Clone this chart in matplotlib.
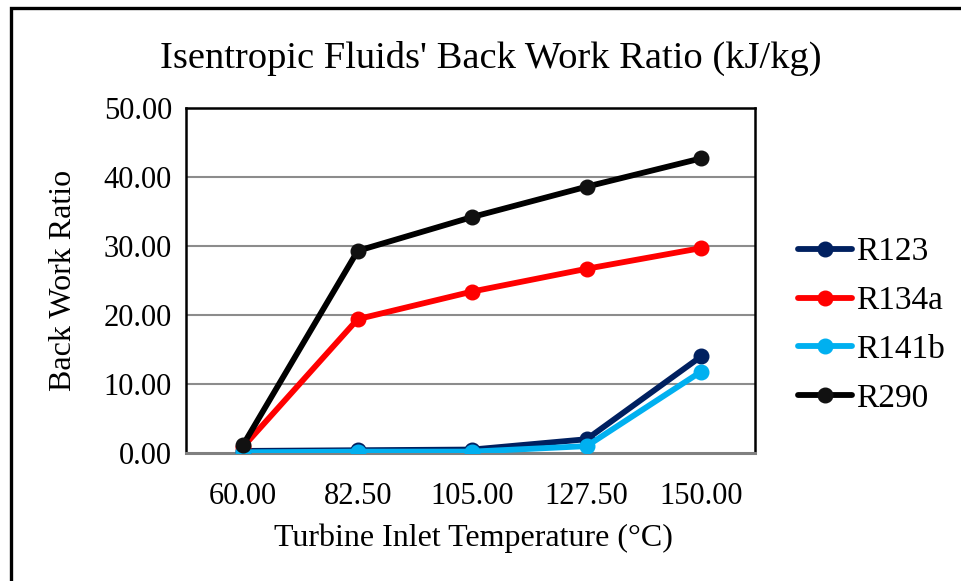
import matplotlib.pyplot as plt
from matplotlib.patches import Rectangle

plt.rcParams['font.family'] = ['Liberation Serif', 'DejaVu Serif']

# dados
temperaturas = ['60.00', '82.50', '105.00', '127.50', '150.00']
r123 = [0.3, 0.4, 0.5, 2.0, 14.0]
r134a = [0.9, 19.4, 23.4, 26.7, 29.7]
r141b = [0.1, 0.2, 0.2, 1.0, 11.8]
r290 = [1.2, 29.3, 34.2, 38.6, 42.7]

series = [('R123', r123, '#002060'),
          ('R134a', r134a, '#FF0000'),
          ('R141b', r141b, '#00B0F0'),
          ('R290', r290, '#000000')]

fig = plt.figure(figsize=(9.62, 5.81), dpi=100)
fig.patch.set_facecolor('white')
# moldura externa do grafico
fig.add_artist(Rectangle((0.011, -0.05), 1.05, 1.036, transform=fig.transFigure,
                         fill=False, edgecolor='black', linewidth=2.4))

ax = fig.add_axes([0.1933, 0.2203, 0.5915, 0.5938])
x = list(range(len(temperaturas)))

for y in [10, 20, 30, 40]:
    ax.axhline(y, color='#8c8c8c', linewidth=1.5, zorder=1)

linhas = []
for nome, valores, cor in series:
    mcor = '#111111' if cor == '#000000' else cor
    l, = ax.plot(x, valores, color=cor, linewidth=4.2, marker='o', markersize=10.5,
                 markerfacecolor=mcor, markeredgecolor=mcor, label=nome, zorder=3,
                 solid_capstyle='round')
    linhas.append(l)

ax.set_xlim(-0.5, 4.47)
ax.set_ylim(0, 50)
ax.set_xticks(x)
ax.set_xticklabels(temperaturas, fontsize=22)
ax.set_yticks([0, 10, 20, 30, 40, 50])
ax.set_yticklabels(['0.00', '10.00', '20.00', '30.00', '40.00', '50.00'], fontsize=22)
ax.tick_params(axis='y', length=0, pad=10)
ax.tick_params(axis='x', length=0, pad=21)
for s in ['top', 'left', 'right']:
    ax.spines[s].set_linewidth(1.8)
    ax.spines[s].set_color('black')
ax.spines['bottom'].set_color('#808080')
ax.spines['bottom'].set_linewidth(2.2)

ax.set_xlabel('Turbine Inlet Temperature (°C)', fontsize=23)
ax.set_ylabel('Back Work Ratio', fontsize=23)
ax.xaxis.set_label_coords(0.506, -0.246)
ax.xaxis.label.set_va('center')
ax.yaxis.set_label_coords(-0.216, 0.50)
ax.yaxis.label.set_va('center')

fig.text(0.51, 0.899, "Isentropic Fluids' Back Work Ratio (kJ/kg)", fontsize=27.7,
         ha='center', va='center')

leg = fig.legend(handles=linhas, loc='center left', bbox_to_anchor=(0.830, 0.44),
                 frameon=False, fontsize=24, handlelength=1.6, handletextpad=0.12,
                 labelspacing=0.55, borderaxespad=0, borderpad=0)

fig.savefig('out.png', dpi=100)
